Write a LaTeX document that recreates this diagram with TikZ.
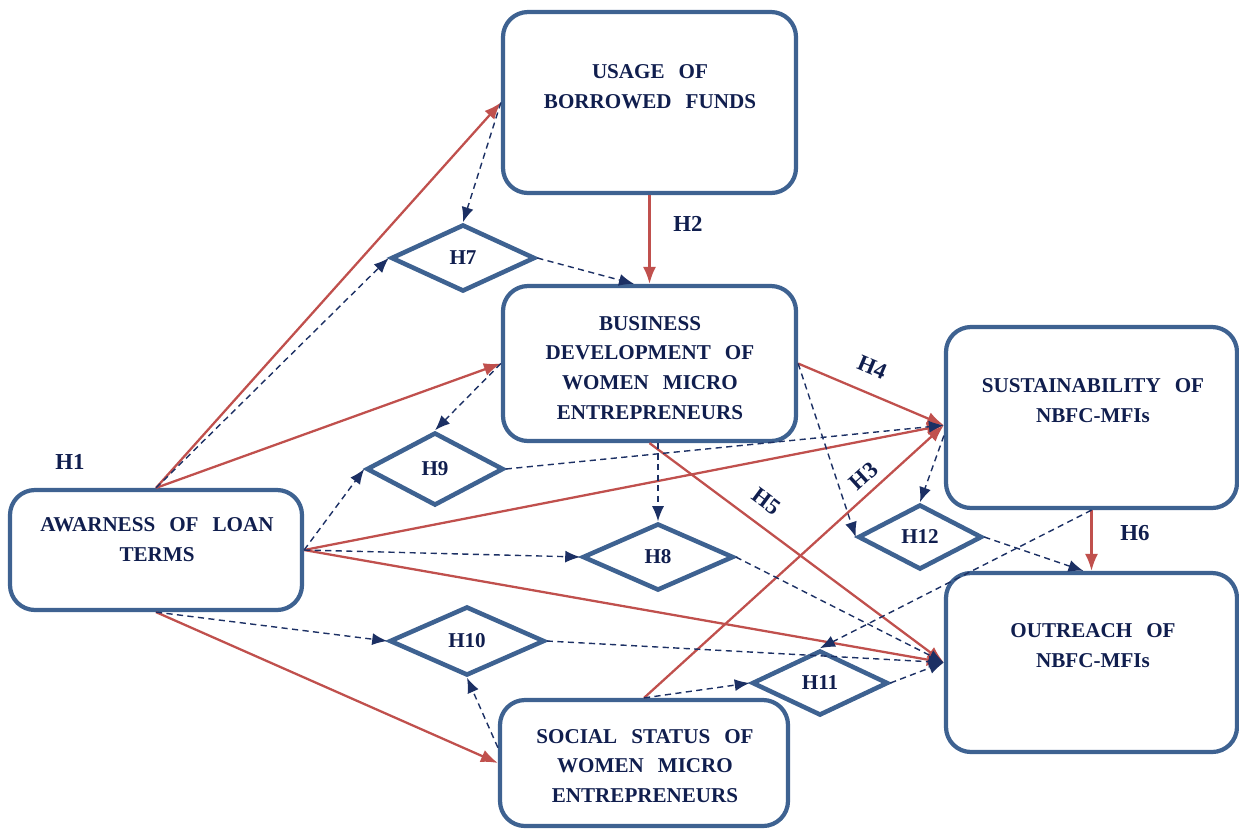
\documentclass[tikz,border=0pt]{standalone}
\usepackage{fontspec}
\setmainfont{Liberation Serif}
\usetikzlibrary{arrows.meta, shapes.geometric}

\definecolor{boxblue}{RGB}{62,98,145}
\definecolor{hypred}{RGB}{192,80,77}
\definecolor{dashnavy}{RGB}{28,48,100}
\definecolor{txtnavy}{RGB}{16,30,78}

\newcommand{\boxfont}{\bfseries\fontsize{12}{17}\selectfont\spaceskip=8pt plus 1pt\relax}

\begin{document}
\begin{tikzpicture}[
            x = 0.2mm, y = -0.2mm, % one unit = one pixel of the original
            > = {Latex[length=3.4mm, width=2.6mm]}, % arrow head style
            font = \bfseries\fontsize{12}{17}\selectfont,
            text = txtnavy
        ]

        \tikzstyle{box}=[
            draw = boxblue,
            line width = 2.4pt,
            rounded corners = 5mm,
            minimum width = 58.4mm
        ]
        \tikzstyle{hyp}=[
            diamond,
            draw = boxblue,
            line width = 2.6pt,
            inner sep = 0pt
        ]
        \tikzstyle{txt}=[align = center, font = \boxfont]
        \tikzstyle{lab}=[text = txtnavy, inner sep = 1pt, font = \bfseries\fontsize{13}{15}\selectfont]
        \tikzstyle{link}=[->, hypred, line width = 1.3pt]
        \tikzstyle{mod}=[-{Latex[length=3mm, width=2.4mm]}, dashnavy, line width = 0.8pt, dash pattern = on 3.5pt off 2.5pt]

        \useasboundingbox (0,0) rectangle (1239,829);

        % constructs
        \node[box, minimum height = 24mm] (aw) at (156,550) {};
        \node[box, minimum width = 58.6mm, minimum height = 36.2mm] (usage) at (649.5,102.5) {};
        \node[box, minimum width = 58.6mm, minimum height = 31mm] (bdev) at (649.5,363.5) {};
        \node[box, minimum width = 58.2mm, minimum height = 36.2mm] (sust) at (1091.5,417.5) {};
        \node[box, minimum width = 58.2mm, minimum height = 35.8mm] (outr) at (1091.5,662.5) {};
        \node[box, minimum width = 57.6mm, minimum height = 25.2mm] (soc) at (644,763) {};

        \node[txt] (aw-t) at (157,540) {AWARNESS OF LOAN\\TERMS};
        \node[txt] (usage-t) at (650,87) {USAGE OF\\BORROWED FUNDS};
        \node[txt] (bdev-t) at (650,368) {BUSINESS\\DEVELOPMENT OF\\WOMEN MICRO\\ENTREPRENEURS};
        \node[txt] (sust-t) at (1093,401) {SUSTAINABILITY OF\\NBFC-MFIs};
        \node[txt] (outr-t) at (1093,646) {OUTREACH OF\\NBFC-MFIs};
        \node[txt] (soc-t) at (645,766) {SOCIAL STATUS OF\\WOMEN MICRO\\ENTREPRENEURS};

        % moderators
        \node[hyp, minimum width = 28.8mm, minimum height = 13.4mm] (h7) at (463,258) {H7};
        \node[hyp, minimum width = 27.4mm, minimum height = 14.6mm] (h9) at (435,469) {H9};
        \node[hyp, minimum width = 30.2mm, minimum height = 13.4mm] (h8) at (658,557) {H8};
        \node[hyp, minimum width = 24.8mm, minimum height = 13mm] (h12) at (920,537) {H12};
        \node[hyp, minimum width = 31mm, minimum height = 13.8mm] (h10) at (467,641) {H10};
        \node[hyp, minimum width = 27.2mm, minimum height = 13mm] (h11) at (820,683) {H11};

        \node[lab] (h1) at (70,462) {H1};

        % direct hypotheses
        \path[link] (aw.north) edge (usage.west);
        \path[link] (aw.north) edge (bdev.west);
        \path[link] (aw.east) edge (sust.183);
        \path[link] (aw.east) edge (outr.west);
        \path[link] (aw.south) edge (soc.west);
        \path[link] (usage.south) edge node[lab, right = 4.2mm, pos = .32] {H2} (bdev.north);
        \path[link] (bdev.east) edge node[lab, sloped, above = 3mm, pos = .44] {H4} (sust.183);
        \path[link] (soc.north) edge node[lab, sloped, above = 1.2mm, pos = .77] {H3} (sust.183);
        \path[link] (bdev.south) edge node[lab, sloped, above = 2.5mm, pos = .35] {H5} (outr.west);
        \path[link] (sust.south) edge node[lab, right = 5.2mm, pos = .38] {H6} (outr.north);

        % mediating paths
        \path[mod] (aw.north) edge (h7.west);
        \path[mod] (usage.west) edge (h7.north);
        \path[mod] (h7.east) edge (bdev.101);
        \path[mod] (bdev.west) edge (h9.north);
        \path[mod] (aw.east) edge (h9.west);
        \path[mod] (h9.east) edge (sust.183);
        \path[mod] (aw.east) edge (h8.west);
        \path[mod] (bdev.south -| h8.north) edge (h8.north);
        \path[mod] (h8.east) edge (outr.west);
        \path[mod] (aw.south) edge (h10.west);
        \path[mod] (soc.174) edge (h10.south);
        \path[mod] (h10.east) edge (outr.west);
        \path[mod] (soc.north) edge (h11.west);
        \path[mod] (h11.east) edge (outr.west);
        \path[mod] (sust.south) edge (h11.north);
        \path[mod] (bdev.east) edge (h12.west);
        \path[mod] (sust.187) edge (h12.north);
        \path[mod] (h12.east) edge (outr.95);
\end{tikzpicture}
\end{document}
